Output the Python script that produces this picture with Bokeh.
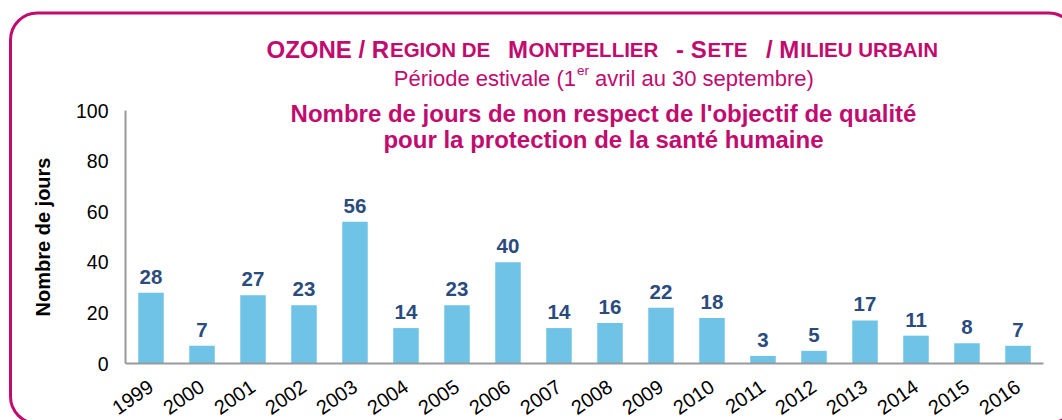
from bokeh.plotting import figure
from bokeh.models import (Range1d, FixedTicker, Label, BoxAnnotation, ColumnDataSource)
from bokeh.embed import file_html
from bokeh.resources import INLINE
from bokeh.core.properties import value

# ---------------- data ----------------
years = ["1999", "2000", "2001", "2002", "2003", "2004", "2005", "2006", "2007",
         "2008", "2009", "2010", "2011", "2012", "2013", "2014", "2015", "2016"]
days = [28, 7, 27, 23, 56, 14, 23, 40, 14, 16, 22, 18, 3, 5, 17, 11, 8, 7]
y_ticks = [0, 20, 40, 60, 80, 100]

title_line2 = ["Période estivale (1", "er", "avril au 30 septembre)"]
title_line3 = "Nombre de jours de non respect de l'objectif de qualité"
title_line4 = "pour la protection de la santé humaine"
y_label = "Nombre de jours"

# ---------------- style ----------------
MAGENTA = "#C10B6E"
BAR = "#6EC3E7"
LABEL = "#2A4B7D"
AXIS = "#9A9A9A"
FONT = "Liberation Sans"

W, H = 1062, 420
FL, FR, FT, FB = 125, 1043, 110, 363   # plot area edges (pixels) inside the canvas
n = len(years)
px_cat = (FR - FL) / n                  # pixels per category
px_unit = (FB - FT) / 100.0             # pixels per y unit

pos = list(range(n))
src = ColumnDataSource(dict(pos=pos, year=years, days=days, label=[str(v) for v in days]))

# the frame covers the whole canvas; ranges are chosen so that the plot area sits at FL..FR, FT..FB
x_start = -0.5 - FL / px_cat
x_end = -0.5 + (W - FL) / px_cat
y_start = -(H - FB) / px_unit
y_end = FB / px_unit

p = figure(width=W, height=H, x_range=Range1d(x_start, x_end), y_range=Range1d(y_start, y_end),
           output_backend="svg", toolbar_location=None,
           min_border=0, min_border_left=0, min_border_right=0, min_border_top=0,
           min_border_bottom=0)
p.outline_line_color = None
p.xgrid.visible = False
p.ygrid.visible = False
p.background_fill_color = "white"
p.border_fill_color = "white"

p.vbar(x="pos", top="days", width=0.5, source=src, fill_color=BAR, line_color=None)
p.text(x="pos", y="days", text="label", source=src, y_offset=-16,
       text_align="center", text_baseline="alphabetic",
       text_font=value(FONT), text_font_style="bold", text_font_size="20.5px",
       text_color=LABEL)

# axes (fixed inside the frame)
ya = p.yaxis[0]
ya.fixed_location = -0.5
ya.bounds = (0, 100)
ya.ticker = FixedTicker(ticks=y_ticks)
ya.major_tick_line_color = None
ya.minor_tick_line_color = None
ya.major_tick_out = 0
ya.major_tick_in = 0
ya.axis_line_color = AXIS
ya.axis_line_width = 2
ya.major_label_text_font = FONT
ya.major_label_text_font_size = "19.5px"
ya.major_label_text_color = "black"
ya.major_label_standoff = 17
ya.axis_label = y_label
ya.axis_label_text_font = FONT
ya.axis_label_text_font_style = "bold"
ya.axis_label_text_font_size = "20px"
ya.axis_label_text_color = "black"
ya.axis_label_standoff = 19

xa = p.xaxis[0]
xa.fixed_location = 0
xa.bounds = (-0.5, n - 0.5)
xa.ticker = FixedTicker(ticks=pos)
xa.major_label_overrides = {i: y for i, y in zip(pos, years)}
xa.major_tick_line_color = None
xa.minor_tick_line_color = None
xa.major_tick_out = 0
xa.major_tick_in = 0
xa.axis_line_color = AXIS
xa.axis_line_width = 2
xa.major_label_orientation = 0.6
xa.major_label_text_font = FONT
xa.major_label_text_font_size = "20px"
xa.major_label_text_color = "black"
xa.major_label_standoff = 21

# screen units: relative to the frame's bottom-left corner, y up
def sx(x):
    return x

def sy(y):
    return H - y

# rounded frame
p.add_layout(BoxAnnotation(left=sx(10), right=sx(1075), top=sy(12.5), bottom=sy(423),
                           left_units="screen", right_units="screen",
                           top_units="screen", bottom_units="screen",
                           fill_alpha=0, line_color=MAGENTA, line_alpha=1,
                           line_width=3, border_radius=27))

def lab(text, x, y, size, style="bold", align="left"):
    p.add_layout(Label(x=sx(x), y=sy(y), x_units="screen", y_units="screen", text=text,
                       text_font=FONT, text_font_style=style, text_font_size=size,
                       text_color=MAGENTA, text_align=align, text_baseline="alphabetic"))

# line 1 (small caps emulation)
B1 = 49
lab("OZONE / R", 266, B1, "24px")
lab("EGION DE", 389.5, B1, "20.5px")
lab("M", 507.5, B1, "24px")
lab("ONTPELLIER", 528, B1, "20.5px")
lab("- S", 675.5, B1, "24px")
lab("ETE", 707, B1, "20.5px")
lab("/ M", 765.5, B1, "24px")
lab("ILIEU URBAIN", 799.7, B1, "20.5px")

# line 2
lab(title_line2[0], 575.5, 78, "22px", style="normal", align="right")
lab(title_line2[1], 576.5, 70, "13.5px", style="normal", align="left")
lab(title_line2[2], 594.5, 78, "22px", style="normal", align="left")

# lines 3-4
lab(title_line3, 603, 113, "24px", align="center")
lab(title_line4, 603, 139, "24px", align="center")

open("out.html", "w").write(file_html(p, INLINE))
